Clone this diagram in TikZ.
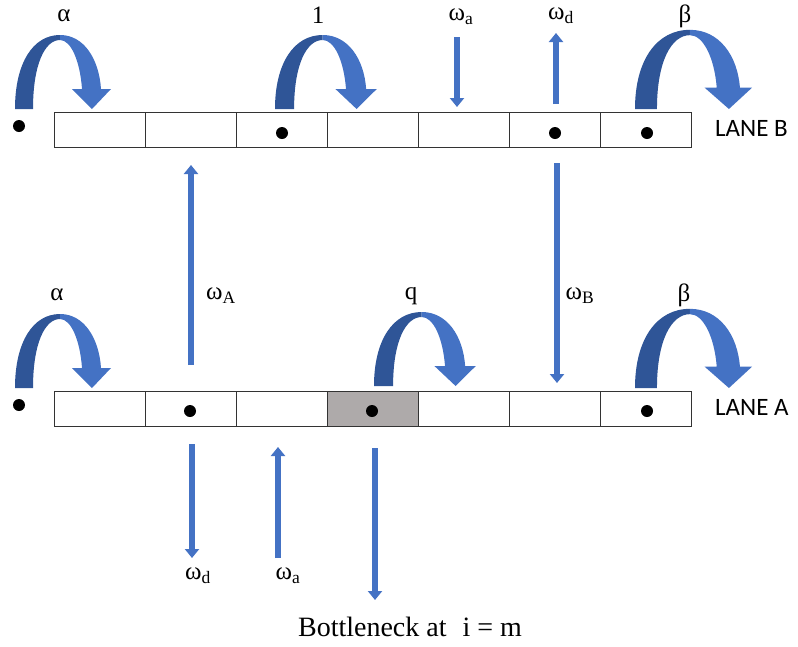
\documentclass[tikz,border=0pt]{standalone}
\usepackage{fontspec}
\setmainfont{Liberation Serif}
\newfontfamily\lanefont{Carlito}
\usetikzlibrary{arrows.meta}

\definecolor{arrowdark}{HTML}{2F5597}
\definecolor{arrowlight}{HTML}{4472C4}
\definecolor{bottlegrey}{HTML}{AEAAAA}

\tikzset{
  cell/.style={draw=black!80, line width=0.9pt, minimum width=91.1pt, minimum height=35pt, inner sep=0pt},
  particle/.style={circle, fill=black, minimum size=12pt, inner sep=0pt},
  greek/.style={font=\fontsize{25}{27}\selectfont, inner sep=0pt},
  rate/.style={font=\fontsize{25}{27}\selectfont, inner sep=0pt},
  lanelabel/.style={font=\lanefont\fontsize{25}{28}\selectfont, inner sep=0pt, anchor=west},
  caption/.style={font=\fontsize{28}{30}\selectfont, inner sep=0pt},
  blockarrow/.style={draw=arrowlight, line width=6pt,
    -{Triangle[width=14pt,length=9pt]}},
  hop/.pic={
    \fill[arrowdark] (0,0) .. controls (0,-46) and (18,-74) .. (45,-74)
      -- (45,-69) .. controls (30,-69) and (18,-45) .. (18,0) -- cycle;
    \fill[arrowlight] (45,-74) .. controls (69,-74) and (84,-50) .. (86,-20)
      -- (96,-20) -- (77,0) -- (57,-20) -- (67,-20)
      .. controls (65,-48) and (56,-69) .. (45,-69) -- cycle;
  }
}

\begin{document}
\begin{tikzpicture}[x=1pt, y=-1pt]
\useasboundingbox (0,0) rectangle (798,646);

% lane B cells
\foreach \i in {1,...,7} {
  \node[cell] (b\i) at ({54+91.1*(\i-0.5)}, 129.5) {};
}
% lane A cells, the fourth one is the bottleneck site
\foreach \i in {1,...,7} {
  \node[cell] (a\i) at ({54+91.1*(\i-0.5)}, 409) {};
}
\node[cell, fill=bottlegrey] at (a4) {};

\node[lanelabel] (laneB) at (715, 128) {LANE B};
\node[lanelabel] (laneA) at (715, 407) {LANE A};

% particles
\node[particle] (pB0) at (19, 126) {};
\node[particle] at (282, 133) {};
\node[particle] at (555, 133) {};
\node[particle] at (647, 133) {};
\node[particle] (pA0) at (19, 405) {};
\node[particle] at (190, 411) {};
\node[particle] at (372, 411) {};
\node[particle] at (647, 411) {};

% hopping arrows
\pic at (15, 109) {hop};
\pic[xscale=1.06] at (275, 109) {hop};
\pic[xscale=1.22, yscale=1.07] at (635, 109) {hop};
\pic at (15, 388) {hop};
\pic[xscale=1.06] at (374, 386) {hop};
\pic[xscale=1.22, yscale=1.07] at (635, 388) {hop};

\node[greek] (alphaB) at (64, 16) {α};
\node[greek] (oneB) at (318, 15) {1};
\node[greek] (betaB) at (685, 16) {β};
\node[greek] (alphaA) at (57, 295) {α};
\node[greek] (qA) at (411, 296) {q};
\node[greek] (betaA) at (684, 295) {β};

% attachment / detachment on lane B
\coordinate (waBs) at (457, 37);
\coordinate (waBe) at (457, 107);
\draw[blockarrow] (waBs) -- (waBe);
\node[rate] (waB) at (461, 17) {ω\textsubscript{a}};
\coordinate (wdBs) at (556, 104);
\coordinate (wdBe) at (556, 33);
\draw[blockarrow] (wdBs) -- (wdBe);
\node[rate] (wdB) at (561, 16) {ω\textsubscript{d}};

% lane changes
\coordinate (wAs) at (191, 365);
\coordinate (wAe) at (191, 165);
\draw[blockarrow] (wAs) -- (wAe);
\node[rate] (wA) at (221, 296) {ω\textsubscript{A}};
\coordinate (wBs) at (557, 163);
\coordinate (wBe) at (557, 383);
\draw[blockarrow] (wBs) -- (wBe);
\node[rate] (wB) at (580, 296) {ω\textsubscript{B}};

% attachment / detachment on lane A
\coordinate (wdAs) at (192, 444);
\coordinate (wdAe) at (192, 558);
\draw[blockarrow] (wdAs) -- (wdAe);
\node[rate] (wdA) at (198, 576) {ω\textsubscript{d}};
\coordinate (waAs) at (278, 558);
\coordinate (waAe) at (278, 447);
\draw[blockarrow] (waAs) -- (waAe);
\node[rate] (waA) at (288, 576) {ω\textsubscript{a}};

% bottleneck marker
\coordinate (bns) at (375, 448);
\coordinate (bne) at (375, 600);
\draw[blockarrow] (bns) -- (bne);
\node[caption] (bn) at (410, 627) {Bottleneck at\hspace{16pt}i = m};
\end{tikzpicture}
\end{document}
